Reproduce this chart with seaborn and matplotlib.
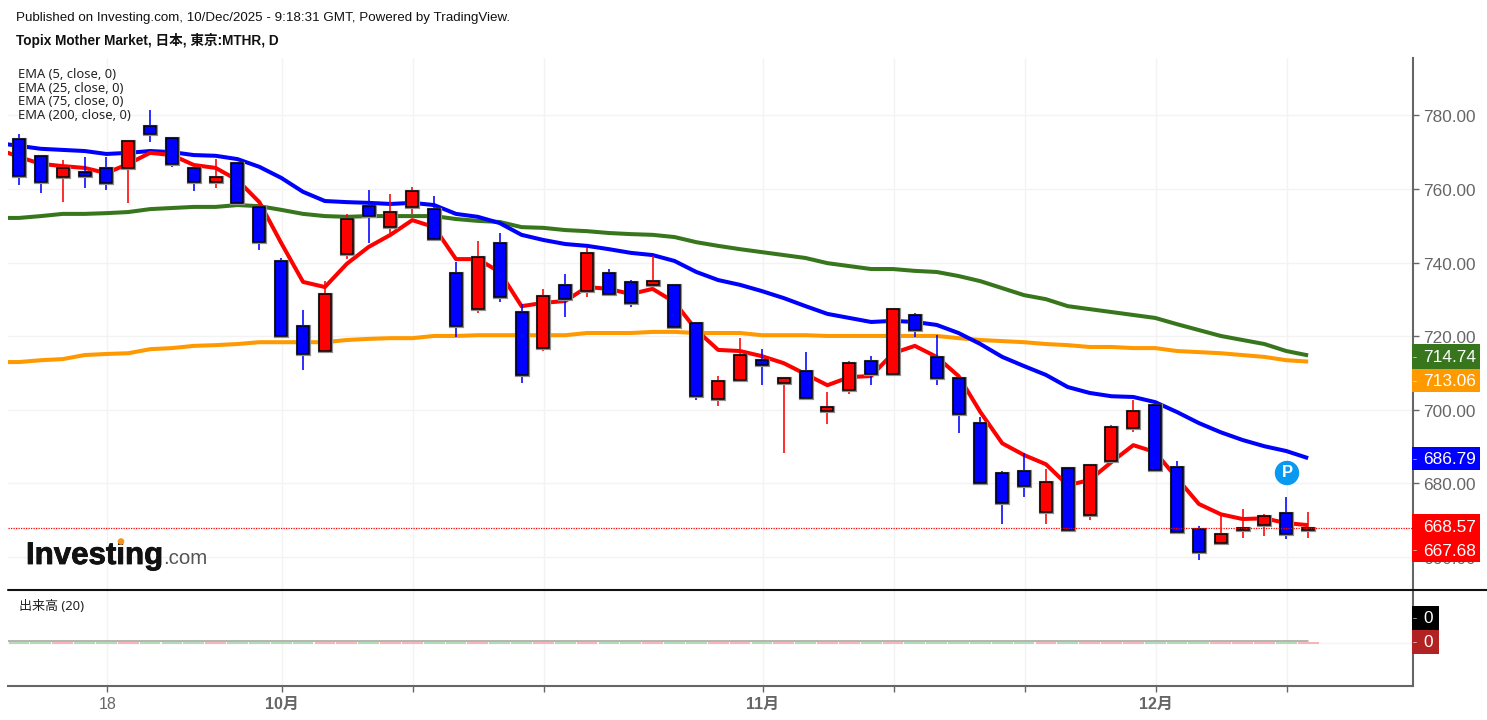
import matplotlib
matplotlib.use("Agg")
import matplotlib.pyplot as plt
import matplotlib.patheffects as pe
from matplotlib.patches import Rectangle, Circle
from matplotlib.transforms import ScaledTranslation
import numpy as np
import pandas as pd
import seaborn as sns

opens = [773.9,769.3,763.5,764.9,766.0,766.0,777.4,774.1,766.0,762.2,767.3,755.4,740.7,723.0,716.2,742.6,755.6,749.9,755.4,754.8,
         737.4,727.6,745.6,726.8,717.0,734.2,732.5,737.4,735.0,734.2,734.2,723.8,703.1,708.3,713.7,707.5,710.7,699.9,705.6,713.5,
         709.9,726.0,714.6,708.8,696.6,683.0,683.5,672.4,684.4,671.6,686.3,695.2,701.5,684.6,667.8,663.9,667.6,668.8,672.1,667.6]
highs = [775.2,769.3,768.2,769.0,769.0,773.3,781.8,774.1,766.3,768.4,767.3,755.4,741.5,727.3,735.2,753.5,760.0,758.9,760.8,758.4,
         740.4,746.1,748.3,729.0,733.1,737.1,744.2,738.5,735.5,742.0,734.2,723.8,709.4,719.7,716.7,708.8,715.9,705.0,713.5,714.8,
         727.6,726.5,720.5,708.8,698.2,683.5,688.4,684.1,684.4,685.2,696.1,702.9,701.5,686.3,668.6,671.3,673.2,671.8,676.5,672.4]
lows = [761.4,759.2,756.7,760.5,760.0,756.5,773.1,766.3,759.7,760.5,756.5,743.7,720.3,711.0,716.2,741.2,745.6,748.3,753.5,746.1,
        720.0,726.5,729.5,707.5,716.2,725.4,730.9,731.7,728.2,734.2,722.7,702.9,701.2,708.3,706.9,688.4,703.4,696.3,704.5,706.9,
        709.4,720.0,706.9,693.9,679.7,669.1,676.5,669.1,666.9,670.2,686.3,694.1,683.3,666.9,659.3,663.9,665.3,665.9,665.0,665.3]
closes = [763.8,762.2,766.0,763.8,761.9,773.3,775.2,767.1,762.2,763.5,756.5,745.8,720.3,715.4,731.7,752.1,752.9,754.0,759.7,746.7,
          723.0,741.8,730.9,709.7,731.2,730.3,742.9,731.7,729.3,735.2,722.7,703.9,708.0,715.1,712.4,708.8,703.4,700.9,712.9,709.9,
          727.6,721.9,708.8,699.0,680.3,674.8,679.5,680.5,667.5,685.2,695.5,699.9,683.8,666.9,661.5,666.4,668.0,671.3,666.4,667.95]

ema5 = [771.2,769.0,767.1,766.5,766.0,764.6,767.1,770.1,769.5,766.8,766.0,762.7,756.7,745.6,735.0,733.6,739.9,744.5,747.8,751.8,
        749.9,741.2,741.2,737.7,728.4,729.3,729.8,733.6,733.1,731.7,733.1,729.5,721.9,716.5,716.2,714.8,712.9,709.9,706.9,709.1,
        709.4,715.6,717.6,714.6,709.4,699.6,691.1,687.9,685.4,679.7,681.1,686.0,690.6,688.7,681.6,674.6,671.8,670.5,670.7,669.4,668.84]
ema25 = [772.8,772.0,771.2,770.9,770.6,769.8,770.1,770.6,770.3,769.5,769.3,768.4,766.3,763.3,759.5,757.0,756.7,756.5,756.2,756.5,
         755.9,753.5,752.7,751.0,747.8,746.4,745.3,744.8,743.9,742.9,742.3,740.7,737.7,735.5,734.2,732.5,730.6,728.4,726.3,725.2,
         724.1,724.4,724.1,723.3,721.1,718.1,714.6,712.1,709.7,706.4,704.8,703.9,703.7,702.3,699.6,696.6,694.1,692.0,690.3,689.0,687.06]
ema75 = [752.4,752.4,752.9,753.5,753.5,753.7,754.0,754.8,755.1,755.4,755.4,755.9,755.6,754.6,753.5,752.9,752.7,752.9,752.9,752.9,
         752.9,752.1,751.6,751.3,749.9,749.7,749.1,748.8,748.3,748.0,747.8,747.2,745.8,744.8,743.9,743.1,742.3,741.5,740.1,739.3,
         738.5,738.5,738.0,737.7,736.6,735.2,733.3,731.4,730.3,728.4,727.6,726.8,726.0,725.2,723.5,721.9,720.3,719.2,718.1,716.2,715.01]
ema200 = [713.2,713.2,713.7,714.0,715.1,715.4,715.6,716.7,717.0,717.6,717.8,718.1,718.6,718.6,718.6,718.6,719.2,719.5,719.7,719.7,
          720.3,720.3,720.5,720.5,720.5,720.5,720.5,721.1,721.1,721.1,721.4,721.4,721.1,721.1,721.1,720.5,720.5,720.5,720.3,720.3,
          720.3,720.3,720.3,720.3,719.7,719.2,718.9,718.6,718.1,717.8,717.3,717.3,717.0,717.0,716.2,715.9,715.6,715.1,714.6,713.7,713.33]
volumes = [0]*60
volume_ma = [0]*61

# the readings above carry a constant 1-pixel bias against the gridlines
READ_BIAS = 0.27
y_ticks = [660, 680, 700, 720, 740, 760, 780]
x_tick_pos = [4, 12, 18, 24, 34, 40, 46, 52, 58]
x_tick_labels = ["18", "10月", "", "", "11月", "", "", "12月", ""]
ema_labels = ["EMA (5, close, 0)", "EMA (25, close, 0)", "EMA (75, close, 0)", "EMA (200, close, 0)"]

sns.set_theme(style="white")
FONT = ["Noto Sans", "Noto Sans CJK JP", "DejaVu Sans"]
NUM = ["Liberation Sans", "Noto Sans CJK JP", "DejaVu Sans"]
plt.rcParams["font.family"] = FONT

W, H = 1487, 720
fig = plt.figure(figsize=(W/100, H/100), dpi=100, facecolor="white")
ax = fig.add_axes([8/W, (H-590)/H, 1405/W, 532/H])
vax = fig.add_axes([8/W, (H-686)/H, 1405/W, 96/H], sharex=ax)

days = np.arange(60)
all_days = np.arange(-1, 60)
BLUE, RED, GREEN, ORANGE = "#0000ff", "#ff0000", "#38761d", "#ff9900"

ema_df = pd.DataFrame({"day": all_days,
                       "EMA5": np.array(ema5) - READ_BIAS, "EMA25": np.array(ema25) - READ_BIAS,
                       "EMA75": np.array(ema75) - READ_BIAS, "EMA200": np.array(ema200) - READ_BIAS})
long_df = ema_df.melt("day", var_name="ema", value_name="price")
sns.lineplot(data=long_df, x="day", y="price", hue="ema",
             palette={"EMA5": RED, "EMA25": BLUE, "EMA75": GREEN, "EMA200": ORANGE},
             hue_order=["EMA200", "EMA75", "EMA25", "EMA5"], linewidth=2.9, legend=False,
             ax=ax, zorder=2, errorbar=None, solid_capstyle="butt")

o, h, l, c = [np.array(a) - READ_BIAS for a in (opens, highs, lows, closes)]
colors = [RED if cc >= oo else BLUE for oo, cc in zip(o, c)]
ax.vlines(days, l, h, colors=colors, linewidth=1.15, zorder=3)
bars = ax.bar(days, np.abs(c-o), bottom=np.minimum(o, c), width=0.55, color=colors,
              edgecolor="black", linewidth=1.1, zorder=4)
for b in bars:
    b.set_path_effects([pe.withStroke(linewidth=2.3, foreground="#909090")])

ax.axhline(c[-1], color=RED, linewidth=0.9, linestyle=(0, (1, 1)), zorder=5)

ax.set_xlim(-0.503, 63.8)
ax.set_ylim(651.2 - READ_BIAS, 795.9 - READ_BIAS)
ax.set_yticks(y_ticks)
ax.set_yticklabels([f"{v:.2f}" for v in y_ticks], family=NUM, fontsize=12.4, color="#666666")
ax.yaxis.tick_right()
ax.tick_params(axis="y", direction="out", length=4, width=1, color="#666666", pad=3, right=True)
ax.tick_params(axis="x", length=0, labelbottom=False)
ax.grid(True, color="#f3f3f3", linewidth=1)
ax.set_axisbelow(True)
ax.set_xlabel(""); ax.set_ylabel("")
for s in ("top", "left", "bottom"):
    ax.spines[s].set_visible(False)
ax.spines["right"].set_color("#666666"); ax.spines["right"].set_linewidth(1.5)
label_shift = ScaledTranslation(0, -1/100, fig.dpi_scale_trans)
for lab in ax.get_yticklabels():
    lab.set_transform(lab.get_transform() + label_shift)

# volume pane
vol_colors = ["#f4b6b6" if cc == RED else "#b4dcb4" for cc in colors]
vax.bar(days, volumes, width=0.95, color=vol_colors, edgecolor=vol_colors, linewidth=1.5, zorder=2)
sns.lineplot(x=all_days, y=volume_ma, color="#a0a0a0", linewidth=1.1, ax=vax, zorder=3, errorbar=None)
vline = vax.get_lines()[-1]
vline.set_transform(vline.get_transform() + ScaledTranslation(0, 1.5/100, fig.dpi_scale_trans))
vax.set_ylim(-0.448, 0.552)
vax.set_yticks([0])
vax.set_yticklabels([""])
vax.yaxis.tick_right()
vax.tick_params(axis="y", length=4, width=1, color="#666666", right=True)
vax.set_xticks(np.array(x_tick_pos) + 0.05)
vax.set_xticklabels(x_tick_labels, family=NUM, fontsize=11.5, color="#666666")
for t, s in zip(vax.get_xticklabels(), x_tick_labels):
    if "月" in s:
        t.set_fontweight("bold")
vax.tick_params(axis="x", length=4, width=1, color="#666666", pad=4, bottom=True)
ax.tick_params(axis="x", length=0, labelbottom=False)
vax.grid(True, color="#f3f3f3", linewidth=1)
vax.set_axisbelow(True)
vax.set_xlabel(""); vax.set_ylabel("")
for s in ("top", "left"):
    vax.spines[s].set_visible(False)
for s in ("right", "bottom"):
    vax.spines[s].set_color("#666666"); vax.spines[s].set_linewidth(1.5)

# overlay in screen pixels for furniture
ov = fig.add_axes([0, 0, 1, 1], facecolor="none", zorder=10)
ov.set_xlim(0, W); ov.set_ylim(H, 0); ov.axis("off")
ov.plot([8, W], [590, 590], color="#111111", linewidth=1.5)

ov.text(16, 17.5, "Published on Investing.com, 10/Dec/2025 - 9:18:31 GMT, Powered by TradingView.",
        family=NUM, fontsize=9.6, color="#111111", va="center", ha="left")
ov.text(16, 40, "Topix Mother Market, 日本, 東京:MTHR, D", family=NUM, fontsize=9.8, fontweight="bold",
        color="#111111", va="center", ha="left")
for yy, s in zip([74.5, 88, 101.5, 115.5], ema_labels):
    ov.text(18, yy, s, fontsize=9.3, color="#222222", va="center", ha="left")
ov.text(19, 607, "出来高 (20)", fontsize=9.4, color="#222222", va="center", ha="left")

# logo
ov.text(26, 556, "Investing", family=NUM, fontsize=22.5, fontweight="bold", color="#111111", va="center", ha="left",
        path_effects=[pe.withStroke(linewidth=0.6, foreground="#111111")])
ov.text(163, 559, ".com", family=NUM, fontsize=14.8, color="#555555", va="center", ha="left")
ov.add_patch(Circle((121, 541.5), 2.6, color="#f7941d", zorder=5))

# badge
ov.add_patch(Circle((1287, 473), 11.5, color="#0a99f0", zorder=5))
ov.text(1287, 472.5, "P", family=NUM, fontsize=12, fontweight="bold", color="white", ha="center", va="center", zorder=6)

# right labels
def box(y0, y1, x1, color, labels):
    ov.add_patch(Rectangle((1412, y0), x1-1412, y1-y0, color=color, zorder=5, linewidth=0))
    for yy, s in labels:
        ov.text(1423, yy, s, family=NUM, fontsize=12.4, color="white", ha="left", va="center", zorder=6)

box(344, 369, 1480, GREEN, [(358, "714.74")])
box(369, 392, 1480, ORANGE, [(382, "713.06")])
box(447, 470, 1480, BLUE, [(460, "686.79")])
box(514, 562, 1480, RED, [(527, "668.57"), (551, "667.68")])
box(606, 630, 1439, "#000000", [(618.5, "0")])
box(630, 654, 1439, "#b22222", [(642.5, "0")])
for yy in [357, 381, 459, 550, 618, 642]:
    ov.plot([1413, 1416], [yy, yy], color="white", linewidth=0.6, alpha=0.7, zorder=7)

fig.savefig("out.png", dpi=100)
